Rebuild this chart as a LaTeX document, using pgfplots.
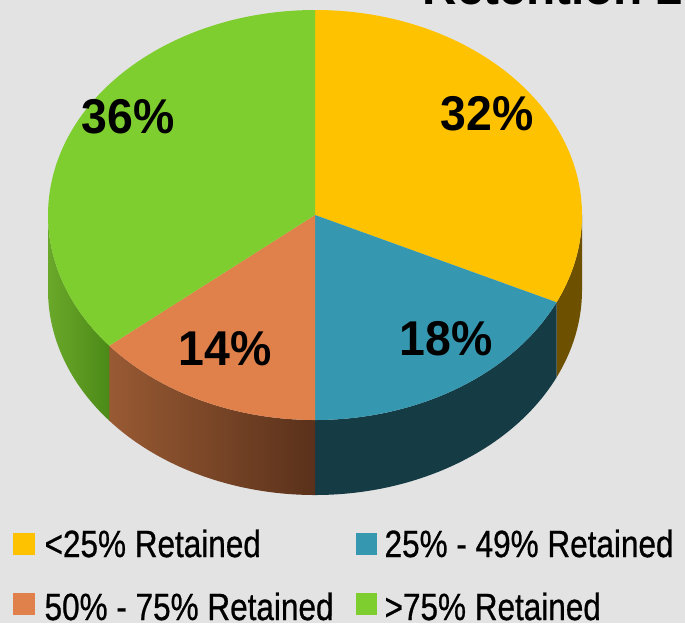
\documentclass[border=0pt]{standalone}
\usepackage{pgfplots}
\pgfplotsset{compat=1.18}
\usepackage{fontspec}
\setmainfont{Liberation Sans}
\newfontfamily\legfont[FakeBold=0.8]{Liberation Sans}
\definecolor{bgc}{HTML}{E3E3E3}
\definecolor{cy}{HTML}{FFC200}
\definecolor{cb}{HTML}{3698B0}
\definecolor{co}{HTML}{E0804A}
\definecolor{cg}{HTML}{7FCE30}
\definecolor{cys}{HTML}{6D5000}
\definecolor{cbs}{HTML}{153B45}
\definecolor{cosl}{HTML}{985A33}
\definecolor{cosr}{HTML}{5A311B}
\definecolor{cgsl}{HTML}{6AA82A}
\definecolor{cgsr}{HTML}{4C8A18}
% slice values (percent)
\def\vA{32}\def\vB{18}\def\vC{14}\def\vD{36}
\pgfmathsetmacro\aA{90}
\pgfmathsetmacro\aB{\aA-3.6*\vA}
\pgfmathsetmacro\aC{\aB-3.6*\vB}
\pgfmathsetmacro\aD{\aC-3.6*\vC}
\pgfmathsetmacro\aE{\aD-3.6*\vD}
\newcommand{\slicetop}[3]{%
  \fill[#3] (axis cs:315,215) -- (axis cs:{315+267*cos(#1)},{215-205*sin(#1)})
    arc[start angle=#1,end angle=#2,x radius=2.67cm,y radius=2.05cm] -- cycle;}
\newcommand{\sliceside}[3]{%
  \path[#3] (axis cs:{315+267*cos(#1)},{215-205*sin(#1)})
    arc[start angle=#1,end angle=#2,x radius=2.67cm,y radius=2.05cm]
    -- (axis cs:{315+267*cos(#2)},{290-205*sin(#2)})
    arc[start angle=#2,end angle=#1,x radius=2.67cm,y radius=2.05cm] -- cycle;}
\begin{document}
\begin{tikzpicture}
\clip (0,0) rectangle (6.85cm,6.23cm);
\useasboundingbox (0,0) rectangle (6.85cm,6.23cm);
\begin{axis}[scale only axis, width=6.85cm, height=6.23cm,
  xmin=0, xmax=685, ymin=0, ymax=623, y dir=reverse, hide axis, clip=false]
\fill[bgc] (axis cs:0,0) rectangle (axis cs:685,623);
% sides
\sliceside{\aB}{0}{fill=cys}
\sliceside{\aC}{\aB}{fill=cbs}
\sliceside{\aD}{\aC}{left color=cosl, right color=cosr}
\sliceside{-180}{\aD}{left color=cgsl, right color=cgsr}
% tops
\slicetop{\aA}{\aB}{cy}
\slicetop{\aB}{\aC}{cb}
\slicetop{\aC}{\aD}{co}
\slicetop{\aD}{\aE}{cg}
% percentage labels
\tikzset{pl/.style={anchor=base, font=\fontsize{13.9}{16}\selectfont\bfseries, xscale=0.95}}
\node[pl] at (axis cs:487,130) {\vA\%};
\node[pl] at (axis cs:446,355) {\vB\%};
\node[pl] at (axis cs:225,365) {\vC\%};
\node[pl] at (axis cs:128,133) {\vD\%};
% title (cut off at top)
\node[anchor=base west, font=\fontsize{13.6}{16}\selectfont\bfseries, inner sep=0pt] at (axis cs:422,5) {Retention 2};
% legend
\tikzset{lt/.style={anchor=base west, inner sep=0pt, font=\fontsize{10.8}{13}\legfont, xscale=0.83}}
\fill[cy] (axis cs:13,533) rectangle (axis cs:35,555);
\node[lt] at (axis cs:44,557) {<25\% Retained};
\fill[cb] (axis cs:356,533) rectangle (axis cs:377,555);
\node[lt] at (axis cs:384,557) {25\% - 49\% Retained};
\fill[co] (axis cs:13,593) rectangle (axis cs:35,615);
\node[lt] at (axis cs:44,620) {50\% - 75\% Retained};
\fill[cg] (axis cs:356,593) rectangle (axis cs:377,615);
\node[lt] at (axis cs:384,620) {>75\% Retained};
\end{axis}
\end{tikzpicture}
\end{document}
